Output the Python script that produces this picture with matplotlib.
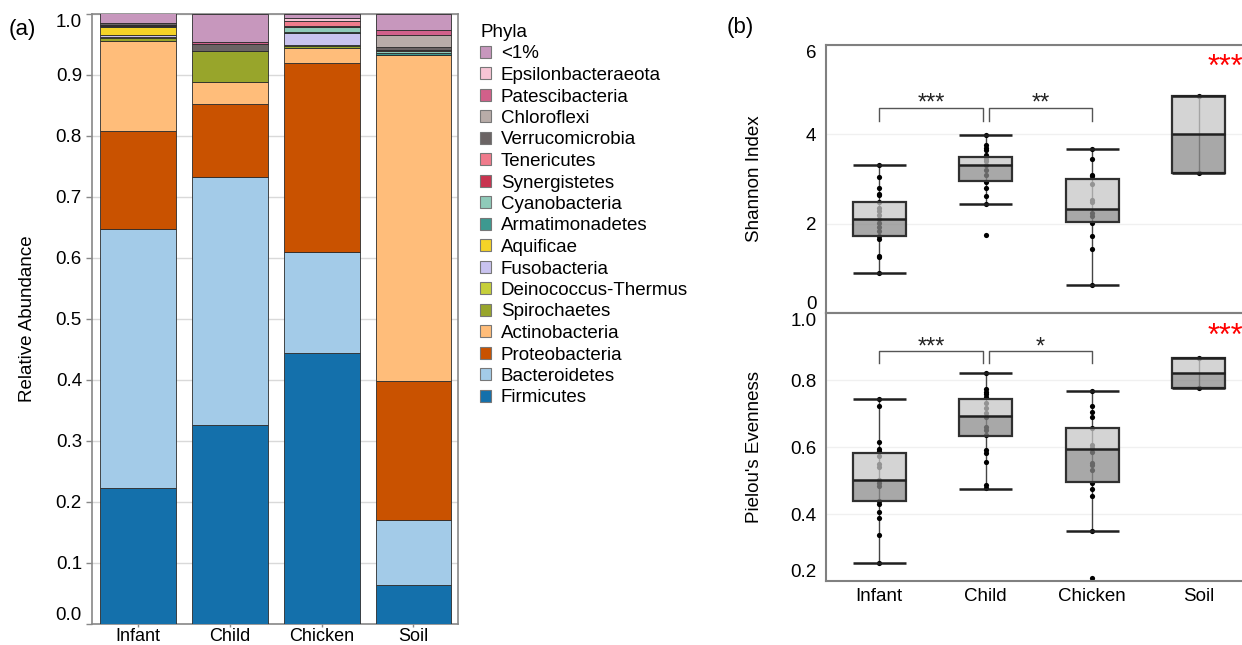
import matplotlib
matplotlib.use("Agg")
import matplotlib.pyplot as plt
from matplotlib.patches import Patch
import numpy as np

plt.rcParams['font.family'] = ['Liberation Sans', 'DejaVu Sans']

# ---- panel (a): relative abundance of phyla ----
groups = ["Infant", "Child", "Chicken", "Soil"]

# stacking order, bottom -> top
phyla = ["Firmicutes", "Bacteroidetes", "Proteobacteria", "Actinobacteria",
         "Spirochaetes", "Deinococcus-Thermus", "Fusobacteria", "Aquificae",
         "Armatimonadetes", "Cyanobacteria", "Synergistetes", "Tenericutes",
         "Verrucomicrobia", "Chloroflexi", "Patescibacteria",
         "Epsilonbacteraeota", "<1%"]

phyla_colors = ["#1470ab", "#a3cbe8", "#c95200", "#ffbd7a",
                "#98a52b", "#c6cf3a", "#c9c3ef", "#f5d327",
                "#3d9990", "#8fcab9", "#c8334f", "#f07b8c",
                "#6b6464", "#b8aca8", "#d1608a",
                "#f7c5d5", "#c797bd"]

# abundance per phylum, one value per group (Infant, Child, Chicken, Soil)
abund = {
    "Firmicutes":          [0.223, 0.326, 0.445, 0.064],
    "Bacteroidetes":       [0.425, 0.406, 0.164, 0.106],
    "Proteobacteria":      [0.161, 0.120, 0.311, 0.228],
    "Actinobacteria":      [0.147, 0.036, 0.024, 0.535],
    "Spirochaetes":        [0.005, 0.052, 0.003, 0.000],
    "Deinococcus-Thermus": [0.002, 0.000, 0.002, 0.000],
    "Fusobacteria":        [0.003, 0.000, 0.020, 0.000],
    "Aquificae":           [0.012, 0.000, 0.000, 0.000],
    "Armatimonadetes":     [0.002, 0.000, 0.002, 0.003],
    "Cyanobacteria":       [0.000, 0.000, 0.007, 0.003],
    "Synergistetes":       [0.002, 0.000, 0.002, 0.000],
    "Tenericutes":         [0.000, 0.000, 0.009, 0.002],
    "Verrucomicrobia":     [0.003, 0.010, 0.000, 0.005],
    "Chloroflexi":         [0.000, 0.000, 0.000, 0.020],
    "Patescibacteria":     [0.000, 0.004, 0.000, 0.008],
    "Epsilonbacteraeota":  [0.000, 0.000, 0.004, 0.000],
    "<1%":                 [0.016, 0.046, 0.007, 0.026],
}

# ---- panel (b): alpha diversity ----
box_pos = [1, 2, 3, 4]

shannon_lo = [0.89, 2.44, 0.63, 3.13]
shannon_q1 = [1.73, 2.95, 2.03, 3.13]
shannon_med = [2.10, 3.31, 2.33, 4.00]
shannon_q3 = [2.48, 3.49, 2.99, 4.85]
shannon_hi = [3.31, 3.98, 3.68, 4.85]
shannon_pts = [
    [3.31, 3.04, 2.79, 2.67, 2.64, 2.48, 2.35, 2.28, 2.20, 2.10, 2.01, 1.93,
     1.83, 1.73, 1.66, 1.28, 1.25, 0.89],
    [3.98, 3.76, 3.70, 3.65, 3.53, 3.45, 3.40, 3.31, 3.21, 3.08, 2.93, 2.80,
     2.61, 2.44, 1.74],
    [3.68, 3.45, 3.10, 3.06, 2.89, 2.54, 2.48, 2.24, 2.18, 2.01, 1.72, 1.43,
     0.63],
    [4.85, 3.13],
]

pielou_lo = [0.254, 0.476, 0.350, 0.777]
pielou_q1 = [0.439, 0.633, 0.495, 0.777]
pielou_med = [0.503, 0.692, 0.594, 0.822]
pielou_q3 = [0.581, 0.743, 0.657, 0.867]
pielou_hi = [0.742, 0.822, 0.766, 0.867]
pielou_pts = [
    [0.742, 0.723, 0.616, 0.594, 0.587, 0.574, 0.550, 0.539, 0.502, 0.494,
     0.485, 0.438, 0.431, 0.406, 0.388, 0.338, 0.254],
    [0.822, 0.772, 0.765, 0.757, 0.748, 0.731, 0.716, 0.701, 0.689, 0.661,
     0.651, 0.636, 0.590, 0.582, 0.554, 0.487, 0.479],
    [0.766, 0.721, 0.706, 0.691, 0.656, 0.606, 0.597, 0.584, 0.552, 0.545,
     0.530, 0.494, 0.474, 0.453, 0.350, 0.209],
    [0.867, 0.777],
]

fig = plt.figure(figsize=(12.42, 6.45), dpi=100)

# ------------------------------------------------------------ (a)
ax = fig.add_axes([0.0738, 0.0326, 0.2949, 0.9457])
x = np.arange(len(groups))
bottom = np.zeros(len(groups))
for name, col in zip(phyla, phyla_colors):
    vals = np.array(abund[name])
    ax.bar(x, vals, bottom=bottom, width=0.826, color=col, edgecolor="#2b2b2b",
           linewidth=0.6, label=name, zorder=3)
    bottom += vals

ax.set_xlim(-0.503, 3.484)
ax.set_ylim(0, 1.0)
ax.set_yticks(np.arange(0, 1.01, 0.1))
ax.set_yticklabels(["%.1f" % v for v in np.arange(0, 1.01, 0.1)])
ax.get_yticklabels()[0].set_va("bottom")
ax.get_yticklabels()[-1].set_va("top")
ax.set_xticks(x)
ax.set_xticklabels(groups)
ax.tick_params(labelsize=13.5, color="#888888", length=4, width=1, pad=3)
ax.tick_params(axis="x", labelsize=13, length=2, pad=1)
ax.grid(axis="y", color="#d9d9d9", linewidth=1, zorder=0)
for s in ax.spines.values():
    s.set_color("#888888")
    s.set_linewidth(1.2)
ax.set_ylabel("Relative Abundance", fontsize=13.5)
ax.yaxis.set_label_coords(-0.152, 0.5)

handles = [Patch(facecolor=c, edgecolor="#777777", linewidth=0.8)
           for c in phyla_colors[::-1]]
leg = ax.legend(handles, phyla[::-1], title="Phyla", loc="upper left",
                bbox_to_anchor=(480 / 1242, 1 - 24 / 645),
                bbox_transform=fig.transFigure, frameon=False,
                fontsize=13.5, title_fontsize=13.5, alignment="left",
                handlelength=0.6, handleheight=0.6, handletextpad=0.5,
                labelspacing=0.24, borderpad=0, borderaxespad=0)

fig.text(22 / 1242, 1 - 30 / 645, "(a)", fontsize=16, ha="center", va="center")
fig.text(740 / 1242, 1 - 28 / 645, "(b)", fontsize=16, ha="center", va="center")


# ------------------------------------------------------------ (b)
def draw_boxes(ax, lo, q1, med, q3, hi, pts):
    for i, p in enumerate(box_pos):
        ax.vlines(p, lo[i], q1[i], color="#444444", linewidth=1, zorder=2)
        ax.vlines(p, q3[i], hi[i], color="#444444", linewidth=1, zorder=2)
        ax.vlines(p, q1[i], q3[i], color="#444444", linewidth=1, zorder=1)
        ax.scatter([p] * len(pts[i]), pts[i], s=14, color="black",
                   linewidths=0, zorder=2)
    ax.bar(box_pos, np.array(q3) - np.array(med), bottom=med, width=0.5,
           color="#c6c6c6", alpha=0.75, edgecolor="none", zorder=3)
    ax.bar(box_pos, np.array(med) - np.array(q1), bottom=q1, width=0.5,
           color="#8b8b8b", alpha=0.75, edgecolor="none", zorder=3)
    ax.bar(box_pos, np.array(q3) - np.array(q1), bottom=q1, width=0.5,
           fill=False, edgecolor="#303030", linewidth=1.6, zorder=4)
    ax.hlines(med, np.array(box_pos) - 0.25, np.array(box_pos) + 0.25,
              color="#202020", linewidth=1.8, zorder=5)
    ax.hlines(lo, np.array(box_pos) - 0.25, np.array(box_pos) + 0.25,
              color="#202020", linewidth=1.8, zorder=5)
    ax.hlines(hi, np.array(box_pos) - 0.25, np.array(box_pos) + 0.25,
              color="#202020", linewidth=1.8, zorder=5)


def bracket(ax, x0, x1, y_top, y_end, label, y_text):
    ax.plot([x0, x0, x1, x1], [y_end, y_top, y_top, y_end],
            color="#555555", linewidth=1, zorder=5)
    ax.text((x0 + x1) / 2, y_text, label, ha="center", va="center",
            fontsize=17, color="#222222")


def style(ax):
    ax.set_xlim(0.5, 4.5)
    for s in ax.spines.values():
        s.set_color("#808080")
        s.set_linewidth(1.5)
    ax.tick_params(labelsize=13.5, length=0, pad=7)
    ax.set_axisbelow(True)


ax1 = fig.add_axes([0.6651, 0.5147, 0.343, 0.4155])
draw_boxes(ax1, shannon_lo, shannon_q1, shannon_med, shannon_q3, shannon_hi,
           shannon_pts)
style(ax1)
ax1.set_ylim(0, 6)
ax1.set_yticks([0, 2, 4, 6])
ax1.set_yticklabels(["0", "2", "4", "6"])
ax1.get_yticklabels()[0].set_va("bottom")
ax1.get_yticklabels()[-1].set_va("top")
ax1.set_xticks(box_pos)
ax1.set_xticklabels([])
ax1.grid(axis="y", color="#f0f0f0", linewidth=1)
ax1.xaxis.grid(False)
ax1.set_ylabel("Shannon Index", fontsize=13.5)
ax1.yaxis.set_label_coords(-0.148, 0.5)
bracket(ax1, 1, 1.97, 4.60, 4.30, "***", 4.68)
bracket(ax1, 2.03, 3, 4.60, 4.30, "**", 4.68)
ax1.text(4.08, 5.49, "***", color="red", fontsize=22, ha="left", va="center")

ax2 = fig.add_axes([0.6651, 0.0992, 0.343, 0.4155])
draw_boxes(ax2, pielou_lo, pielou_q1, pielou_med, pielou_q3, pielou_hi,
           pielou_pts)
style(ax2)
ax2.set_ylim(0.2, 1.0)
ax2.set_yticks([0.2, 0.4, 0.6, 0.8, 1.0])
ax2.set_yticklabels(["0.2", "0.4", "0.6", "0.8", "1.0"])
ax2.get_yticklabels()[0].set_va("bottom")
ax2.get_yticklabels()[-1].set_va("top")
ax2.set_xticks(box_pos)
ax2.set_xticklabels(groups)
ax2.tick_params(axis="x", pad=5)
ax2.grid(axis="y", color="#f0f0f0", linewidth=1)
ax2.xaxis.grid(False)
ax2.set_ylabel("Pielou's Evenness", fontsize=13.5)
ax2.yaxis.set_label_coords(-0.148, 0.5)
bracket(ax2, 1, 1.97, 0.887, 0.850, "***", 0.898)
bracket(ax2, 2.03, 3, 0.887, 0.850, "*", 0.898)
ax2.text(4.08, 0.93, "***", color="red", fontsize=22, ha="left", va="center")

fig.savefig("out.png", dpi=100)
